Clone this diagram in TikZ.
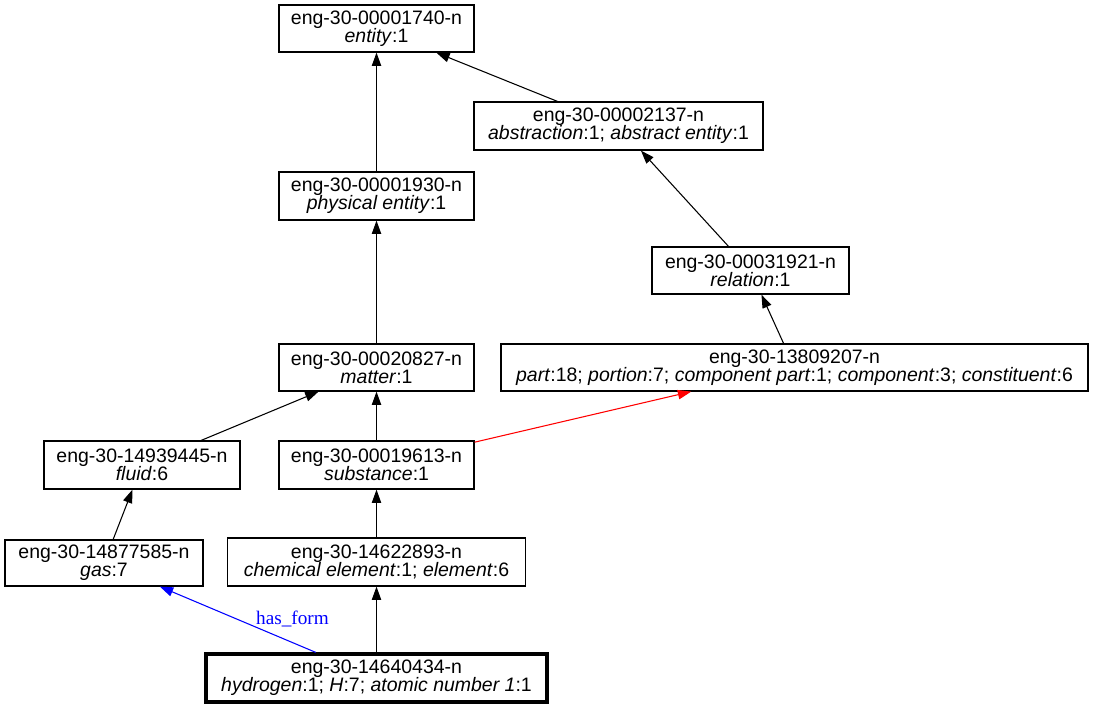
\documentclass[tikz,border=0pt]{standalone}
\usepackage{fontspec}
\setmainfont{Liberation Sans}
\newfontfamily\lblfont{Liberation Serif}
\usetikzlibrary{arrows.meta}
\begin{document}
\begin{tikzpicture}[x=0.75pt,y=-0.75pt,
  syn/.style 2 args={draw, line width=0.9pt, inner sep=0pt,
    minimum width=#1*0.75pt, minimum height=#2*0.75pt, align=center,
    font=\fontsize{14.6}{13.8}\selectfont},
  link/.style={line width=0.8pt, -{Triangle[length=10pt,width=7pt]}},
  lbl/.style={text=blue, inner sep=0pt, font=\lblfont\fontsize{14.4}{14}\selectfont},
]
\useasboundingbox (0,0) rectangle (1094,708);
\node[syn={195}{47}] (ent) at (376.5,28.5) {eng-30-00001740-n\\\textit{entity}:1};
\node[syn={289}{48}] (abs) at (618.5,126) {eng-30-00002137-n\\\textit{abstraction}:1; \textit{abstract entity}:1};
\node[syn={195}{48}] (phys) at (376.5,196) {eng-30-00001930-n\\\textit{physical entity}:1};
\node[syn={197}{47}] (rel) at (750.5,270.5) {eng-30-00031921-n\\\textit{relation}:1};
\node[syn={195}{47}] (mat) at (376.5,367.5) {eng-30-00020827-n\\\textit{matter}:1};
\node[syn={587}{47}] (part) at (794.5,367.5) {eng-30-13809207-n\\\textit{part}:18; \textit{portion}:7; \textit{component part}:1; \textit{component}:3; \textit{constituent}:6};
\node[syn={196}{48}] (fluid) at (142,465) {eng-30-14939445-n\\\textit{fluid}:6};
\node[syn={195}{48}] (subst) at (376.5,465) {eng-30-00019613-n\\\textit{substance}:1};
\node[syn={198}{46}] (gas) at (104,563) {eng-30-14877585-n\\\textit{gas}:7};
\node[syn={298}{48}] (chem) at (376.5,562) {eng-30-14622893-n\\\textit{chemical element}:1; \textit{element}:6};
\node[syn={341}{48}, line width=2.5pt] (hyd) at (376.5,678) {eng-30-14640434-n\\\textit{hydrogen}:1; \textit{H}:7; \textit{atomic number 1}:1};
\draw[link] (phys) -- (ent);
\draw[link] (abs) -- (ent);
\draw[link] (rel) -- (abs);
\draw[link] (part) -- (rel);
\draw[link] (mat) -- (phys);
\draw[link] (fluid) -- (mat);
\draw[link] (subst) -- (mat);
\draw[link, red] (subst) -- (part);
\draw[link] (gas) -- (fluid);
\draw[link] (chem) -- (subst);
\draw[link] (hyd) -- (chem);
\draw[link, blue] (hyd) -- (gas);
\node[lbl] (haslbl) at (292.5,619) {has\_form};
\end{tikzpicture}
\end{document}
